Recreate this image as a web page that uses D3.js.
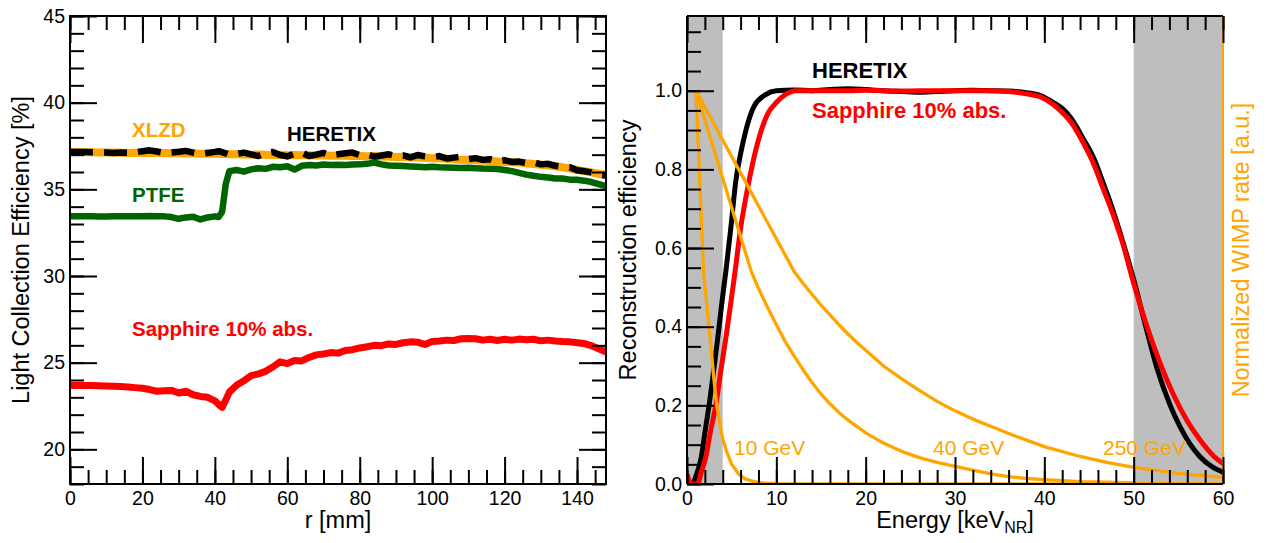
<!DOCTYPE html>
<html>
<head>
<meta charset="utf-8">
<script src="https://cdn.jsdelivr.net/npm/d3@7"></script>
<style>
  body { margin: 0; background: #fff; }
  svg { display: block; font-family: "Liberation Sans", Arial, sans-serif; }
</style>
</head>
<body>
<svg id="fig" width="1268" height="543"></svg>
<script>
// ---------- left panel data: light collection efficiency vs r ----------
var rVals = [0,2,4,6,8,10,12,14,16,18,20,22,24,26,28,30,32,34,36,38,40,41,42,43,44,
  46,48,50,52,54,56,58,60,62,64,66,68,70,72,74,76,78,80,82,84,86,88,90,92,94,96,98,
  100,102,104,106,108,110,112,114,116,118,120,122,124,126,128,130,132,134,136,138,140,142,144,146,148];

var xlzd = [37.15,37.15,37.14,37.14,37.13,37.12,37.12,37.11,37.10,37.11,37.10,37.09,37.10,37.09,37.08,37.08,37.07,37.08,37.06,37.05,37.05,37.05,37.04,37.04,37.03,
  37.02,37.01,37.00,37.01,36.99,36.98,36.99,36.97,36.98,36.96,36.97,36.95,36.96,36.94,36.95,36.94,36.93,36.93,36.91,36.92,36.89,36.88,36.87,36.86,36.84,36.84,36.82,
  36.80,36.79,36.76,36.74,36.71,36.70,36.68,36.66,36.63,36.61,36.58,36.56,36.53,36.50,36.46,36.42,36.38,36.33,36.27,36.20,36.12,36.05,35.98,35.90,35.82];

var heretix = [37.16,37.16,37.15,37.14,37.13,37.12,37.10,37.12,37.11,37.14,37.20,37.25,37.18,37.10,37.13,37.17,37.22,37.12,37.04,37.10,37.16,37.20,37.14,37.08,37.00,
  37.05,37.12,37.02,36.92,37.08,37.15,36.98,36.90,37.05,37.12,36.92,37.00,37.10,36.95,37.02,37.08,37.12,36.98,37.02,36.88,36.95,37.02,36.92,36.96,36.84,36.98,36.90,
  36.85,36.92,36.78,36.83,36.88,36.74,36.80,36.70,36.74,36.62,36.68,36.58,36.60,36.52,36.56,36.44,36.47,36.36,36.30,36.28,36.10,36.04,35.98,35.85,35.80];

var ptfe = [33.45,33.45,33.44,33.44,33.43,33.43,33.44,33.44,33.45,33.45,33.45,33.46,33.45,33.44,33.40,33.30,33.38,33.42,33.26,33.38,33.44,33.40,33.70,35.30,36.05,
  36.12,36.02,36.15,36.22,36.18,36.30,36.27,36.33,36.14,36.36,36.40,36.38,36.43,36.40,36.42,36.41,36.43,36.44,36.47,36.54,36.44,36.38,36.36,36.34,36.32,36.30,36.28,
  36.30,36.27,36.26,36.25,36.23,36.24,36.22,36.20,36.19,36.17,36.12,36.05,35.95,35.85,35.78,35.72,35.68,35.62,35.62,35.56,35.55,35.50,35.42,35.30,35.18];

var sapphireL = [23.68,23.68,23.68,23.68,23.67,23.66,23.64,23.62,23.60,23.56,23.52,23.45,23.35,23.38,23.40,23.25,23.35,23.15,23.05,23.00,22.80,22.60,22.42,22.85,23.30,
  23.70,23.95,24.25,24.35,24.50,24.75,25.05,24.95,25.12,25.10,25.30,25.45,25.50,25.58,25.55,25.70,25.75,25.85,25.92,26.00,25.98,26.08,26.05,26.15,26.20,26.18,26.05,
  26.22,26.25,26.30,26.28,26.38,26.40,26.38,26.30,26.35,26.28,26.35,26.30,26.36,26.32,26.35,26.26,26.30,26.25,26.22,26.20,26.15,26.10,25.98,25.80,25.62];

// ---------- right panel data: reconstruction efficiency vs energy ----------
var eHeretix = [0,0.6,1.0,1.6,2.0,2.5,3.0,3.45,3.9,4.36,4.9,5.48,6.0,6.6,7.5,8.8,10,12,14,16,18,20,22,24,26,28,30,32,34,36,38,
  39.5,41,42,43,44.3,45.5,46.6,47.7,48.8,50,51.3,52.6,54,55.2,56.3,57.4,58.7,60];
var effHeretix = [0,0,0.02,0.068,0.13,0.204,0.29,0.373,0.46,0.543,0.65,0.773,0.84,0.90,0.96,0.99,1.0,1.002,1.0,1.003,1.005,1.003,1.0,0.998,0.996,0.998,1.0,1.001,1.0,0.999,0.995,
  0.988,0.97,0.955,0.93,0.88,0.83,0.765,0.695,0.615,0.52,0.405,0.295,0.205,0.145,0.102,0.07,0.045,0.03];

var eSapphire = [0,0.5,1.2,1.6,2.1,2.6,3.25,3.8,4.36,4.9,5.4,6.0,6.6,7.3,8.1,9.0,10,11,12.2,14,16,18,20,22,24,26,28,30,32,34,36,38,
  39.5,41,42,43,44.3,45.5,46.6,47.7,48.8,50,51.5,53,54.5,56,57.5,59,60];
var effSapphire = [0.025,0,0,0.03,0.068,0.13,0.204,0.29,0.373,0.46,0.543,0.65,0.73,0.81,0.883,0.94,0.97,0.99,1.0,1.0,1.0,1.0,1.001,1.0,0.999,1.0,1.0,1.0,1.0,1.0,0.998,0.992,
  0.985,0.965,0.945,0.92,0.87,0.815,0.75,0.685,0.61,0.51,0.40,0.305,0.225,0.16,0.11,0.07,0.052];

// normalized WIMP recoil spectra
var e10 = [1,1.85,2.2,2.6,3.0,3.3,3.7,4.0,4.4,5.0,5.8,6.5,7.5,8.5,10,14,60];
var wimp10 = [1.0,0.54,0.46,0.37,0.27,0.205,0.15,0.115,0.085,0.05,0.025,0.013,0.006,0.003,0.001,0,0];

var e40 = [1,7.2,8,9,10,11,12,13,14,15,16,17,18,20,22,24,26,28,30,32,34,36,38,40,44,48,52,56,60];
var wimp40 = [1.0,0.54,0.497,0.45,0.405,0.362,0.325,0.29,0.258,0.229,0.204,0.182,0.163,0.13,0.104,0.083,0.067,0.055,0.045,0.035,0.026,0.019,0.014,0.011,0.006,0.004,0.002,0.001,0.001];

var e250 = [1,12,13,14,15,16,17,18,19,20,22,24,26,28,30,32,34,36.5,40,44,47,50,55,60];
var wimp250 = [1.0,0.54,0.51,0.482,0.455,0.43,0.405,0.382,0.36,0.34,0.30,0.268,0.238,0.21,0.186,0.165,0.147,0.124,0.095,0.07,0.055,0.042,0.027,0.017];

var vetoBands = [[0, 4], [50, 60]];

var svg = d3.select('#fig');

var tickFont = '19.5px';
var titleFont = '23.5px';

function zip(xs, ys) { return xs.map(function(x, i) { return [x, ys[i]]; }); }

function frameTicks(g, x, y, box, opts) {
  // major and minor ticks, all pointing into the frame
  var sides = [
    {make: function() { return d3.axisBottom(x); }, t: "translate(0," + box.bottom + ")", vals: opts.xMajor, minor: opts.xMinor, lab: opts.xFmt, pad: 7},
    {make: function() { return d3.axisTop(x); }, t: "translate(0," + box.top + ")", vals: opts.xMajor, minor: opts.xMinor},
    {make: function() { return d3.axisLeft(y); }, t: "translate(" + box.left + ",0)", vals: opts.yMajor, minor: opts.yMinor, lab: opts.yFmt, pad: 5}
  ];
  if (opts.rightTicks) {
    sides.push({make: function() { return d3.axisRight(y); }, t: "translate(" + box.right + ",0)", vals: opts.yMajor, minor: opts.yMinor});
  }
  sides.forEach(function(s) {
    var gm = g.append("g").attr("transform", s.t)
      .call(s.make().tickValues(s.minor).tickSize(-14).tickFormat(""));
    gm.select(".domain").remove();
    gm.selectAll("line").attr("stroke", "#000").attr("stroke-width", 2);
    var ga = g.append("g").attr("transform", s.t)
      .call(s.make().tickValues(s.vals).tickSize(-27).tickPadding(s.pad || 0)
        .tickFormat(s.lab ? s.lab : ""));
    ga.select(".domain").remove();
    ga.selectAll("line").attr("stroke", "#000").attr("stroke-width", 2);
    ga.selectAll("text").attr("font-size", tickFont).attr("fill", "#000")
      .attr("font-family", '"Liberation Sans", Arial, sans-serif');
  });
}

// ================= LEFT PANEL =================
var L = {left: 70, top: 16, right: 606, bottom: 484};
var xL = d3.scaleLinear().domain([0, 148]).range([L.left, L.right]);
var yL = d3.scaleLinear().domain([18, 45]).range([L.bottom, L.top]);

svg.append("clipPath").attr("id", "clipL").append("rect")
  .attr("x", L.left).attr("y", L.top).attr("width", L.right - L.left).attr("height", L.bottom - L.top);

var lineL = d3.line().x(function(d) { return xL(d[0]); }).y(function(d) { return yL(d[1]); });

var gL = svg.append("g").attr("clip-path", "url(#clipL)");
gL.append("path").datum(zip(rVals, xlzd)).attr("d", lineL)
  .attr("fill", "none").attr("stroke", "#ffa500").attr("stroke-width", 8).attr("stroke-linejoin", "round");
gL.append("path").datum(zip(rVals, heretix)).attr("d", lineL)
  .attr("fill", "none").attr("stroke", "#000").attr("stroke-width", 6.5)
  .attr("stroke-dasharray", "23,11").attr("stroke-linejoin", "round");
gL.append("path").datum(zip(rVals, ptfe)).attr("d", lineL)
  .attr("fill", "none").attr("stroke", "#006400").attr("stroke-width", 6.5).attr("stroke-linejoin", "round");
gL.append("path").datum(zip(rVals, sapphireL)).attr("d", lineL)
  .attr("fill", "none").attr("stroke", "#ff0000").attr("stroke-width", 7).attr("stroke-linejoin", "round");

svg.append("rect").attr("x", L.left).attr("y", L.top)
  .attr("width", L.right - L.left).attr("height", L.bottom - L.top)
  .attr("fill", "none").attr("stroke", "#000").attr("stroke-width", 2);

frameTicks(svg.append("g"), xL, yL, L, {
  xMajor: [0, 20, 40, 60, 80, 100, 120, 140],
  xMinor: d3.range(0, 149, 5),
  yMajor: [20, 25, 30, 35, 40, 45],
  yMinor: d3.range(18, 46, 1),
  xFmt: d3.format("d"), yFmt: d3.format("d"),
  rightTicks: true
});

var labelsL = [
  {t: "XLZD", x: 132, y: 137, c: "#ffa500"},
  {t: "HERETIX", x: 287, y: 141, c: "#000"},
  {t: "PTFE", x: 132, y: 202, c: "#006400"},
  {t: "Sapphire 10% abs.", x: 132, y: 336, c: "#ff0000"}
];
svg.selectAll(".labL").data(labelsL).enter().append("text")
  .attr("x", function(d) { return d.x; }).attr("y", function(d) { return d.y; })
  .attr("fill", function(d) { return d.c; })
  .attr("font-size", "20.5px").attr("font-weight", "bold")
  .text(function(d) { return d.t; });

svg.append("text").attr("x", (L.left + L.right) / 2).attr("y", 528)
  .attr("text-anchor", "middle").attr("font-size", titleFont).text("r [mm]");
svg.append("text").attr("transform", "translate(29," + ((L.top + L.bottom) / 2) + ") rotate(-90)")
  .attr("text-anchor", "middle").attr("font-size", titleFont).text("Light Collection Efficiency [%]");

// ================= RIGHT PANEL =================
var R = {left: 687, top: 16, right: 1223, bottom: 484};
var xR = d3.scaleLinear().domain([0, 60]).range([R.left, R.right]);
var yR = d3.scaleLinear().domain([0, 1.19]).range([R.bottom, R.top]);

svg.append("clipPath").attr("id", "clipR").append("rect")
  .attr("x", R.left).attr("y", R.top).attr("width", R.right - R.left).attr("height", R.bottom - R.top);

var gR = svg.append("g").attr("clip-path", "url(#clipR)");

gR.selectAll(".veto").data(vetoBands).enter().append("rect")
  .attr("x", function(d) { return xR(d[0]); })
  .attr("width", function(d) { return xR(d[1]) - xR(d[0]); })
  .attr("y", R.top).attr("height", R.bottom - R.top)
  .attr("fill", "#bebebe");

var lineR = d3.line().x(function(d) { return xR(d[0]); }).y(function(d) { return yR(d[1]); })
  .curve(d3.curveMonotoneX);
var lineW = d3.line().x(function(d) { return xR(d[0]); }).y(function(d) { return yR(d[1]); });

gR.append("path").datum(zip(eHeretix, effHeretix)).attr("d", lineR)
  .attr("fill", "none").attr("stroke", "#000").attr("stroke-width", 5);
gR.append("path").datum(zip(eSapphire, effSapphire)).attr("d", lineR)
  .attr("fill", "none").attr("stroke", "#ff0000").attr("stroke-width", 5);

[[e10, wimp10], [e40, wimp40], [e250, wimp250]].forEach(function(s) {
  gR.append("path").datum(zip(s[0], s[1])).attr("d", lineW)
    .attr("fill", "none").attr("stroke", "#ffa500").attr("stroke-width", 3.3)
    .attr("stroke-linejoin", "round");
});

// frame: black left/top/bottom, orange right axis
var gF = svg.append("g");
gF.append("line").attr("x1", R.left).attr("x2", R.right).attr("y1", R.top).attr("y2", R.top)
  .attr("stroke", "#000").attr("stroke-width", 2);
gF.append("line").attr("x1", R.left).attr("x2", R.right).attr("y1", R.bottom).attr("y2", R.bottom)
  .attr("stroke", "#000").attr("stroke-width", 2);
gF.append("line").attr("x1", R.left).attr("x2", R.left).attr("y1", R.top).attr("y2", R.bottom)
  .attr("stroke", "#000").attr("stroke-width", 2);
gF.append("line").attr("x1", R.right).attr("x2", R.right).attr("y1", R.top).attr("y2", R.bottom)
  .attr("stroke", "#ffa500").attr("stroke-width", 2);

frameTicks(svg.append("g"), xR, yR, R, {
  xMajor: [0, 10, 20, 30, 40, 50, 60],
  xMinor: d3.range(0, 61, 2),
  yMajor: [0, 0.2, 0.4, 0.6, 0.8, 1.0],
  yMinor: d3.range(0, 1.19, 0.05),
  xFmt: d3.format("d"), yFmt: d3.format(".1f"),
  rightTicks: false
});

var labelsR = [
  {t: "HERETIX", x: 812, y: 78, c: "#000"},
  {t: "Sapphire 10% abs.", x: 812, y: 118, c: "#ff0000"}
];
svg.selectAll(".labR").data(labelsR).enter().append("text")
  .attr("x", function(d) { return d.x; }).attr("y", function(d) { return d.y; })
  .attr("fill", function(d) { return d.c; })
  .attr("font-size", "22px").attr("font-weight", "bold")
  .text(function(d) { return d.t; });

var massLabels = [
  {t: "10 GeV", x: 734},
  {t: "40 GeV", x: 933},
  {t: "250 GeV", x: 1103}
];
svg.selectAll(".labM").data(massLabels).enter().append("text")
  .attr("x", function(d) { return d.x; }).attr("y", 455)
  .attr("fill", "#ffa500").attr("font-size", "21px")
  .text(function(d) { return d.t; });

var xt = svg.append("text").attr("x", (R.left + R.right) / 2).attr("y", 528)
  .attr("text-anchor", "middle").attr("font-size", titleFont);
xt.append("tspan").text("Energy [keV");
xt.append("tspan").attr("font-size", "16px").attr("dy", 5).text("NR");
xt.append("tspan").attr("dy", -5).text("]");

svg.append("text").attr("transform", "translate(636," + ((R.top + R.bottom) / 2) + ") rotate(-90)")
  .attr("text-anchor", "middle").attr("font-size", titleFont).text("Reconstruction efficiency");
svg.append("text").attr("transform", "translate(1249," + ((R.top + R.bottom) / 2) + ") rotate(-90)")
  .attr("text-anchor", "middle").attr("font-size", titleFont).attr("fill", "#ffa500")
  .text("Normalized WIMP rate [a.u.]");
</script>
</body>
</html>
